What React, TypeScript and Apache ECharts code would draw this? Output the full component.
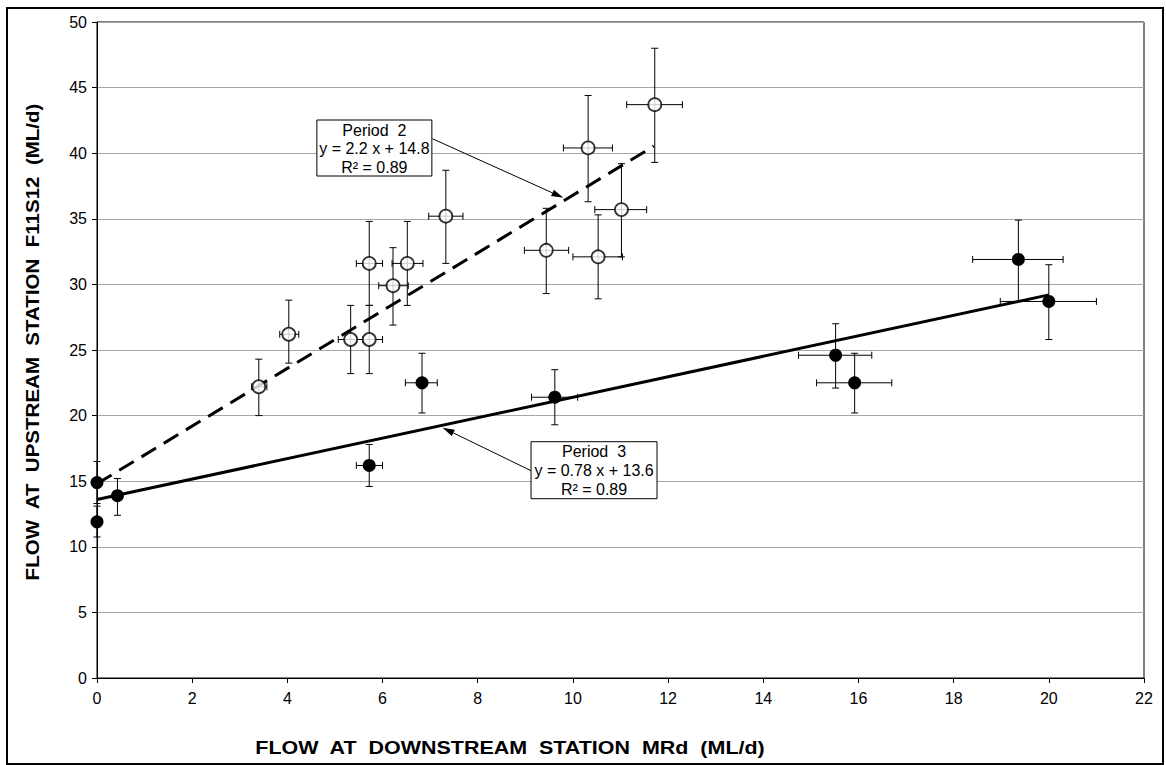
import React, { useEffect, useRef } from "react";
import * as echarts from "echarts";

// Period 2 (open circles): centre values and error ranges
const period2X = [3.4, 4.03, 5.33, 5.72, 5.72, 6.22, 6.52, 7.33, 9.44, 10.53, 11.02, 10.32, 11.72];
const period2Y = [22.2, 26.2, 25.8, 25.8, 31.6, 29.9, 31.6, 35.2, 32.6, 32.1, 35.7, 40.4, 43.7];
const period2XRange = [
  [3.25, 3.57], [3.84, 4.24], [5.07, 5.59], [5.45, 6.0], [5.45, 6.0], [5.92, 6.54], [6.2, 6.85],
  [6.97, 7.69], [8.98, 9.91], [10.0, 11.04], [10.46, 11.55], [9.8, 10.83], [11.13, 12.3],
];
const period2YRange = [
  [20.0, 24.3], [24.0, 28.8], [23.2, 28.4], [23.2, 28.4], [28.4, 34.8], [26.9, 32.8], [28.4, 34.8],
  [31.6, 38.7], [29.3, 35.8], [28.9, 35.3], [32.1, 39.2], [36.3, 44.4], [39.3, 48.0],
];

// Period 3 (filled circles)
const period3X = [0, 0, 0.43, 5.72, 6.83, 9.62, 15.52, 15.92, 19.36, 20.0];
const period3Y = [14.9, 11.9, 13.9, 16.2, 22.5, 21.4, 24.6, 22.5, 31.9, 28.7];
const period3XRange = [
  [0, 0], [0, 0], [0.43, 0.43], [5.45, 6.0], [6.48, 7.15], [9.13, 10.1], [14.74, 16.28],
  [15.12, 16.7], [18.4, 20.3], [18.98, 21.0],
];
const period3YRange = [
  [13.3, 16.5], [10.75, 13.1], [12.4, 15.2], [14.6, 17.8], [20.2, 24.75], [19.3, 23.5],
  [22.1, 27.0], [20.2, 24.75], [28.7, 34.9], [25.8, 31.5],
];

// Fitted trend lines (slope, intercept, x extent)
const fit2 = { slope: 2.2, intercept: 14.8, r2: 0.89, xFrom: 0, xTo: 11.7 };
const fit3 = { slope: 0.78, intercept: 13.6, r2: 0.89, xFrom: 0, xTo: 20 };

// Callout anchors in data units: box top-left, arrow start, arrow tip
const callout2 = { box: [4.62, 42.53], from: [7.05, 41.1], to: [9.8, 36.6] };
const callout3 = { box: [9.12, 18.01], from: [9.12, 15.8], to: [7.26, 19.08] };

const xTitle = "FLOW  AT  DOWNSTREAM  STATION  MRd  (ML/d)";
const yTitle = "FLOW  AT  UPSTREAM  STATION  F11S12  (ML/d)";

const FONT = "'Liberation Sans', Arial, sans-serif";

const buildErr = (xs: number[], ys: number[], xr: number[][], yr: number[][]) =>
  xs.map((x, i) => [x, ys[i], xr[i][0], xr[i][1], yr[i][0], yr[i][1]]);

const renderErrorBars = (params: any, api: any) => {
  const x = api.value(0);
  const y = api.value(1);
  const xl = api.value(2);
  const xh = api.value(3);
  const yl = api.value(4);
  const yh = api.value(5);
  const cap = 3.5;
  const style = { stroke: "#000", lineWidth: 1, fill: null };
  const children: any[] = [];
  const top = api.coord([x, yh]);
  const bot = api.coord([x, yl]);
  children.push({ type: "line", shape: { x1: top[0], y1: top[1], x2: bot[0], y2: bot[1] }, style });
  children.push({ type: "line", shape: { x1: top[0] - cap, y1: top[1], x2: top[0] + cap, y2: top[1] }, style });
  children.push({ type: "line", shape: { x1: bot[0] - cap, y1: bot[1], x2: bot[0] + cap, y2: bot[1] }, style });
  if (xh > xl) {
    const l = api.coord([xl, y]);
    const r = api.coord([xh, y]);
    children.push({ type: "line", shape: { x1: l[0], y1: l[1], x2: r[0], y2: r[1] }, style });
    children.push({ type: "line", shape: { x1: l[0], y1: l[1] - cap, x2: l[0], y2: l[1] + cap }, style });
    children.push({ type: "line", shape: { x1: r[0], y1: r[1] - cap, x2: r[0], y2: r[1] + cap }, style });
  }
  return { type: "group", children };
};

const fmt = (v: number) => String(v);

export default function App() {
  const ref = useRef<HTMLDivElement>(null);

  useEffect(() => {
    if (!ref.current) return;
    const chart = echarts.init(ref.current, undefined, { renderer: "svg" });

    const trend = (f: typeof fit2) => [
      [f.xFrom, f.slope * f.xFrom + f.intercept],
      [f.xTo, f.slope * f.xTo + f.intercept],
    ];

    chart.setOption({
      animation: false,
      backgroundColor: "#fff",
      grid: { left: 97, top: 22, right: 22, bottom: 87, show: true, borderColor: "#000", borderWidth: 1, backgroundColor: "transparent" },
      xAxis: {
        type: "value",
        min: 0,
        max: 22,
        interval: 2,
        axisLine: { show: true, lineStyle: { color: "#000", width: 1 } },
        axisTick: { show: true, inside: false, length: 5, lineStyle: { color: "#000" } },
        axisLabel: { color: "#000", fontSize: 16, fontFamily: FONT, margin: 12 },
        splitLine: { show: false },
      },
      yAxis: {
        type: "value",
        min: 0,
        max: 50,
        interval: 5,
        axisLine: { show: true, lineStyle: { color: "#000", width: 1 } },
        axisTick: { show: true, inside: false, length: 5, lineStyle: { color: "#000" } },
        axisLabel: { color: "#000", fontSize: 16, fontFamily: FONT, margin: 10, formatter: fmt },
        splitLine: { show: true, lineStyle: { color: "#a6a6a6", width: 1 } },
      },
      series: [
        {
          type: "custom",
          name: "Period 2 error",
          renderItem: renderErrorBars,
          data: buildErr(period2X, period2Y, period2XRange, period2YRange),
          encode: { x: [0, 2, 3], y: [1, 4, 5] },
          z: 2,
          silent: true,
        },
        {
          type: "custom",
          name: "Period 3 error",
          renderItem: renderErrorBars,
          data: buildErr(period3X, period3Y, period3XRange, period3YRange),
          encode: { x: [0, 2, 3], y: [1, 4, 5] },
          z: 2,
          silent: true,
        },
        {
          type: "line",
          name: "Period 2 fit",
          data: trend(fit2),
          showSymbol: false,
          symbol: "none",
          lineStyle: { color: "#000", width: 3, type: [17, 9] },
          z: 3,
        },
        {
          type: "line",
          name: "Period 3 fit",
          data: trend(fit3),
          showSymbol: false,
          symbol: "none",
          lineStyle: { color: "#000", width: 3, type: "solid" },
          z: 3,
        },
        {
          type: "scatter",
          name: "Period 2",
          data: period2X.map((x, i) => [x, period2Y[i]]),
          symbol: "circle",
          symbolSize: 13,
          itemStyle: { color: "#fff", borderColor: "#000", borderWidth: 1.8 },
          z: 5,
        },
        {
          type: "scatter",
          name: "Period 3",
          data: period3X.map((x, i) => [x, period3Y[i]]),
          symbol: "circle",
          symbolSize: 13,
          itemStyle: { color: "#000", borderColor: "#000", borderWidth: 0, opacity: 1 },
          z: 5,
        },
      ],
    });

    const px = (p: number[]) => chart.convertToPixel({ gridIndex: 0 }, p) as number[];

    // Equation box with its three text lines
    const box = (anchor: number[], w: number, h: number, lines: string[]) => {
      const p = px(anchor);
      return {
        type: "group",
        x: p[0],
        y: p[1],
        z: 10,
        children: [
          { type: "rect", shape: { x: 0, y: 0, width: w, height: h }, style: { fill: "#fff", stroke: "#000", lineWidth: 1 } },
          ...lines.map((t, i) => ({
            type: "text",
            x: w / 2,
            y: 10 + i * 18.7,
            style: { text: t, fill: "#000", font: `16px ${FONT}`, textAlign: "center", textVerticalAlign: "middle" },
          })),
        ],
      };
    };

    // Thin leader line ending in a narrow filled arrowhead
    const arrow = (fromD: number[], toD: number[]) => {
      const a = px(fromD);
      const b = px(toD);
      const dx = b[0] - a[0];
      const dy = b[1] - a[1];
      const len = Math.hypot(dx, dy);
      const ux = dx / len;
      const uy = dy / len;
      const hl = 12;
      const hw = 3.5;
      const bx = b[0] - ux * hl;
      const by = b[1] - uy * hl;
      return {
        type: "group",
        z: 9,
        children: [
          { type: "line", shape: { x1: a[0], y1: a[1], x2: bx, y2: by }, style: { stroke: "#000", lineWidth: 1 } },
          {
            type: "polygon",
            shape: {
              points: [
                [b[0], b[1]],
                [bx - uy * hw, by + ux * hw],
                [bx + uy * hw, by - ux * hw],
              ],
            },
            style: { fill: "#000" },
          },
        ],
      };
    };

    const fitLines = (label: string, f: typeof fit2) => [
      label,
      `y = ${f.slope} x + ${f.intercept}`,
      `R² = ${f.r2.toFixed(2)}`,
    ];

    chart.setOption({
      graphic: [
        {
          type: "rect",
          shape: { x: 7, y: 8, width: 1156, height: 756 },
          style: { fill: null, stroke: "#000", lineWidth: 2 },
          z: 0,
          silent: true,
        },
        arrow(callout2.from, callout2.to),
        arrow(callout3.from, callout3.to),
        box(callout2.box, 115, 56, fitLines("Period  2", fit2)),
        box(callout3.box, 126, 57, fitLines("Period  3", fit3)),
        {
          type: "text",
          x: 510,
          y: 747,
          scaleX: 1.13,
          style: { text: xTitle, fill: "#000", font: `bold 19px ${FONT}`, textAlign: "center", textVerticalAlign: "middle" },
        },
        {
          type: "text",
          x: 33,
          y: 342,
          rotation: Math.PI / 2,
          scaleX: 1.14,
          style: { text: yTitle, fill: "#000", font: `bold 18px ${FONT}`, textAlign: "center", textVerticalAlign: "middle" },
        },
      ],
    });

    return () => chart.dispose();
  }, []);

  return (
    <div
      ref={ref}
      style={{ position: "fixed", left: 0, top: 0, width: 1166, height: 765, background: "#fff" }}
    />
  );
}
